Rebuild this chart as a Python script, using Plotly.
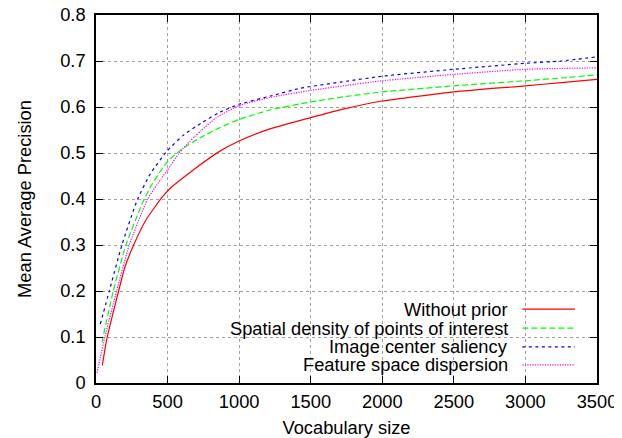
import plotly.graph_objects as go

# ---- data ----
red_x = [44, 72, 100, 158, 200, 260, 350, 465, 525, 625, 700, 860, 1000, 1220, 1500, 1750, 2000, 2500, 3000, 3250, 3500]
red_y = [0.038, 0.09, 0.128, 0.2, 0.25, 0.298, 0.355, 0.405, 0.425, 0.45, 0.468, 0.503, 0.526, 0.553, 0.577, 0.597, 0.613, 0.633, 0.646, 0.653, 0.66]

green_x = [42, 49, 121, 209, 330, 384, 453, 500, 550, 616, 733, 863, 1000, 1220, 1500, 1750, 2000, 2500, 3000, 3250, 3500]
green_y = [0.088, 0.1, 0.2, 0.3, 0.395, 0.428, 0.462, 0.481, 0.496, 0.512, 0.534, 0.555, 0.573, 0.594, 0.611, 0.623, 0.633, 0.646, 0.657, 0.663, 0.67]

blue_x = [30, 93, 181, 291, 380, 495, 615, 735, 860, 1000, 1220, 1430, 1750, 2000, 2500, 3000, 3250, 3500]
blue_y = [0.128, 0.2, 0.3, 0.4, 0.455, 0.504, 0.54, 0.565, 0.588, 0.606, 0.624, 0.641, 0.656, 0.667, 0.682, 0.695, 0.7, 0.709]

magenta_x = [7, 30, 61, 144, 232, 361, 453, 500, 581, 686, 733, 837, 1000, 1220, 1500, 1750, 2000, 2500, 3000, 3500]
magenta_y = [0.022, 0.055, 0.1, 0.2, 0.3, 0.4, 0.443, 0.463, 0.5, 0.535, 0.548, 0.576, 0.603, 0.621, 0.636, 0.647, 0.657, 0.671, 0.682, 0.685]

series_names = ["Without prior", "Spatial density of points of interest",
                "Image center saliency", "Feature space dispersion"]
x_ticks = [0, 500, 1000, 1500, 2000, 2500, 3000, 3500]
y_ticks = [0, 0.1, 0.2, 0.3, 0.4, 0.5, 0.6, 0.7, 0.8]
y_tick_labels = ["0", "0.1", "0.2", "0.3", "0.4", "0.5", "0.6", "0.7", "0.8"]

# ---- styles ----
colors = ["#ff0000", "#00ff00", "#0000ff", "#ff00ff"]
dashes = ["solid", "6px,3px", "3px,3.5px", "1.2px,1.3px"]
FONT = "Liberation Sans, Arial, Helvetica, sans-serif"
FS = 18.3

fig = go.Figure()
data = [(red_x, red_y), (green_x, green_y), (blue_x, blue_y), (magenta_x, magenta_y)]
for (xs, ys), name, c, d in zip(data, series_names, colors, dashes):
    fig.add_trace(go.Scatter(x=xs, y=ys, mode="lines", name=name,
                             line=dict(color=c, width=1.2, dash=d, shape="spline", smoothing=0.5),
                             showlegend=False))

# opaque key box (covers grid, below curves)
fig.add_shape(type="rect", xref="paper", yref="paper", x0=0, x1=1, y0=0, y1=0.228,
              fillcolor="white", line=dict(width=0), layer="between")

# manual key, gnuplot style: right-aligned text, sample on the right
row_y = [0.201, 0.149, 0.098, 0.049]
for name, c, d, yy in zip(series_names, colors, dashes, row_y):
    fig.add_annotation(text=name, xref="paper", yref="paper", x=0.826, y=yy,
                       xanchor="right", yanchor="middle", showarrow=False,
                       font=dict(family=FONT, size=FS, color="black"))
    fig.add_shape(type="line", xref="paper", yref="paper", x0=0.851, x1=0.956, y0=yy, y1=yy,
                  line=dict(color=c, width=1.2, dash=d))

axis_common = dict(showline=True, linecolor="black", linewidth=1.5, mirror="ticks",
                   ticks="inside", ticklen=7, tickwidth=1.2, tickcolor="black",
                   showgrid=True, gridcolor="#a0a0a0", gridwidth=1, griddash="dot",
                   zeroline=False, automargin=False, ticklabeloverflow="allow",
                   tickfont=dict(family=FONT, size=FS, color="black"))

fig.update_xaxes(range=[0, 3500], tickvals=x_ticks, ticktext=[str(v) for v in x_ticks],
                 title=dict(text="Vocabulary size", font=dict(family=FONT, size=FS, color="black"), standoff=11),
                 ticklabelstandoff=1, **axis_common)
fig.update_yaxes(range=[0, 0.8], tickvals=y_ticks, ticktext=y_tick_labels,
                 title=dict(text="Mean Average Precision", font=dict(family=FONT, size=FS, color="black"), standoff=24),
                 ticklabelstandoff=5, **axis_common)

# the page body has an 8px default margin, so the figure is drawn 8px smaller
fig.update_layout(width=614, height=430, margin=dict(l=88, r=25, t=7, b=55),
                  paper_bgcolor="white", plot_bgcolor="white", showlegend=False)

fig.write_html("out.html")
